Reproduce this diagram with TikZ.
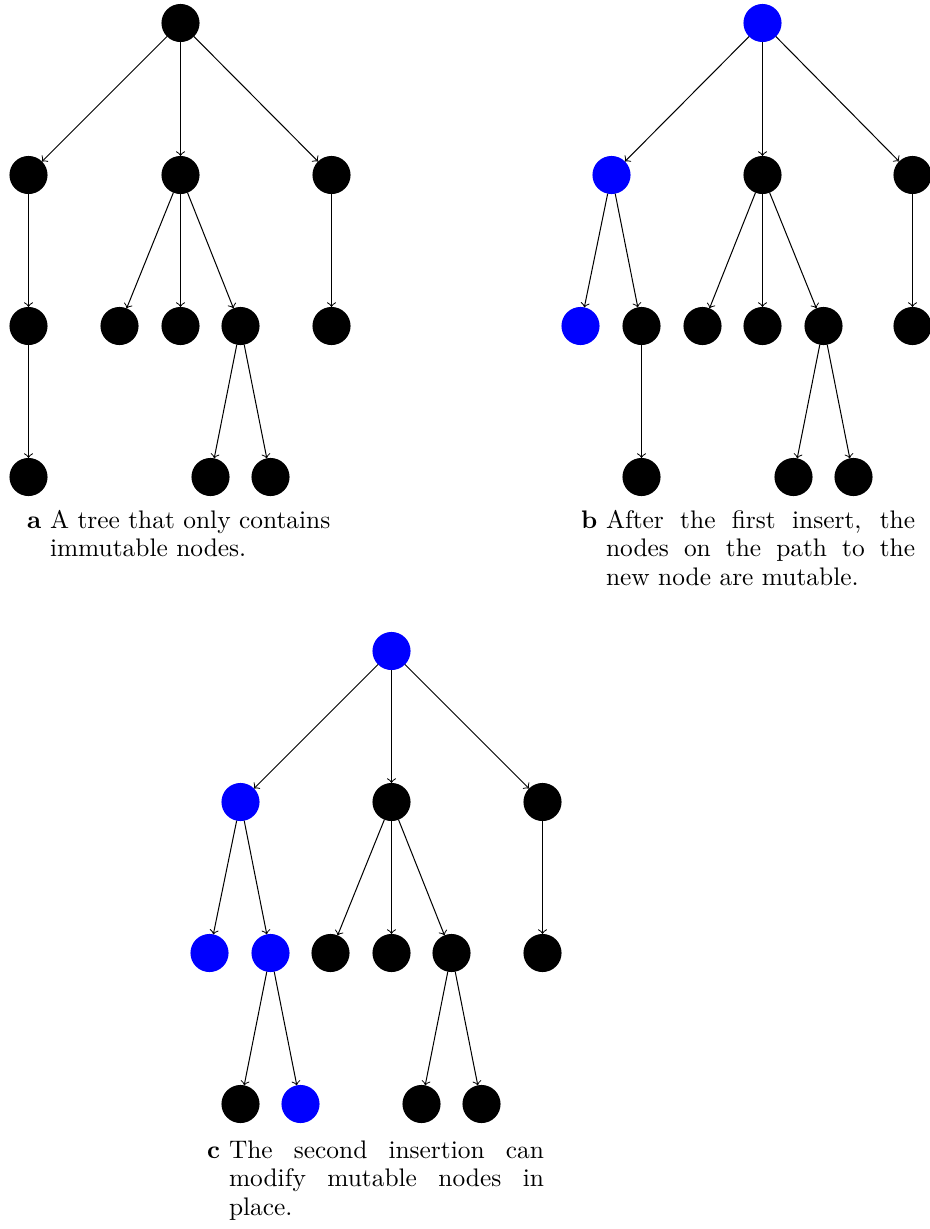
\documentclass[tikz,border=0pt]{standalone}
\begin{document}
\begin{tikzpicture}[x=0.3937pt,y=-0.3937pt,
  tnode/.style={circle,fill=black,minimum size=15pt,inner sep=0pt,outer sep=0pt},
  mnode/.style={tnode,fill=blue},
  arr/.style={->,line width=0.4pt},
  captext/.style={anchor=base west,inner sep=0pt,outer sep=0pt,font=\fontsize{10}{12}\selectfont}]
\useasboundingbox (0,0) rectangle (930,1229);
\clip (0,0) rectangle (930,1229);
% ---------- tree a ----------
\node[tnode] (a0) at (180.5,23) {};
\node[tnode] (a1) at (28.5,175) {};
\node[tnode] (a2) at (180.5,175) {};
\node[tnode] (a3) at (331.5,175) {};
\node[tnode] (a11) at (28.5,326) {};
\node[tnode] (a21) at (119.5,326) {};
\node[tnode] (a22) at (180.5,326) {};
\node[tnode] (a23) at (240.5,326) {};
\node[tnode] (a31) at (331.5,326) {};
\node[tnode] (a111) at (28.5,477) {};
\node[tnode] (a231) at (210.5,477) {};
\node[tnode] (a232) at (270.5,477) {};
\foreach \p/\c in {a0/a1,a0/a2,a0/a3,a1/a11,a2/a21,a2/a22,a2/a23,a3/a31,a11/a111,a23/a231,a23/a232}
  \draw[arr] (\p) -- (\c);
% ---------- tree b ----------
\node[mnode] (b0) at (762.5,23) {};
\node[mnode] (b1) at (611.5,175) {};
\node[tnode] (b2) at (762.5,175) {};
\node[tnode] (b3) at (912.5,175) {};
\node[mnode] (b11) at (580.5,326) {};
\node[tnode] (b12) at (641.5,326) {};
\node[tnode] (b21) at (702.5,326) {};
\node[tnode] (b22) at (762.5,326) {};
\node[tnode] (b23) at (823.5,326) {};
\node[tnode] (b31) at (912.5,326) {};
\node[tnode] (b121) at (641.5,477) {};
\node[tnode] (b231) at (793.5,477) {};
\node[tnode] (b232) at (853.5,477) {};
\foreach \p/\c in {b0/b1,b0/b2,b0/b3,b1/b11,b1/b12,b2/b21,b2/b22,b2/b23,b3/b31,b12/b121,b23/b231,b23/b232}
  \draw[arr] (\p) -- (\c);
% ---------- tree c ----------
\node[mnode] (c0) at (391.5,651) {};
\node[mnode] (c1) at (240.5,802) {};
\node[tnode] (c2) at (391.5,802) {};
\node[tnode] (c3) at (542.5,802) {};
\node[mnode] (c11) at (209.5,953) {};
\node[mnode] (c12) at (270.5,953) {};
\node[tnode] (c21) at (330.5,953) {};
\node[tnode] (c22) at (391.5,953) {};
\node[tnode] (c23) at (451.5,953) {};
\node[tnode] (c31) at (542.5,953) {};
\node[tnode] (c121) at (240.5,1104) {};
\node[mnode] (c122) at (300.5,1104) {};
\node[tnode] (c231) at (421.5,1104) {};
\node[tnode] (c232) at (481.5,1104) {};
\foreach \p/\c in {c0/c1,c0/c2,c0/c3,c1/c11,c1/c12,c2/c21,c2/c22,c2/c23,c3/c31,c12/c121,c12/c122,c23/c231,c23/c232}
  \draw[arr] (\p) -- (\c);
% ---------- captions ----------
\node[captext] (la) at (27,528) {\textbf{a}};
\node[captext] (la1) at (50,528) {A tree that only contains};
\node[captext] (la2) at (50,556.5) {immutable nodes.};
\node[captext] (lb) at (581,528) {\textbf{b}};
\node[captext] (lb1) at (606,528) {\makebox[121.7pt][s]{After the first insert, the}};
\node[captext] (lb2) at (606,556.5) {\makebox[121.7pt][s]{nodes on the path to the}};
\node[captext] (lb3) at (606,585) {new node are mutable.};
\node[captext] (lc) at (207,1158) {\textbf{c}};
\node[captext] (lc1) at (229,1158) {\makebox[124pt][s]{The second insertion can}};
\node[captext] (lc2) at (229,1186.5) {\makebox[124pt][s]{modify mutable nodes in}};
\node[captext] (lc3) at (229,1215) {place.};
\end{tikzpicture}
\end{document}
